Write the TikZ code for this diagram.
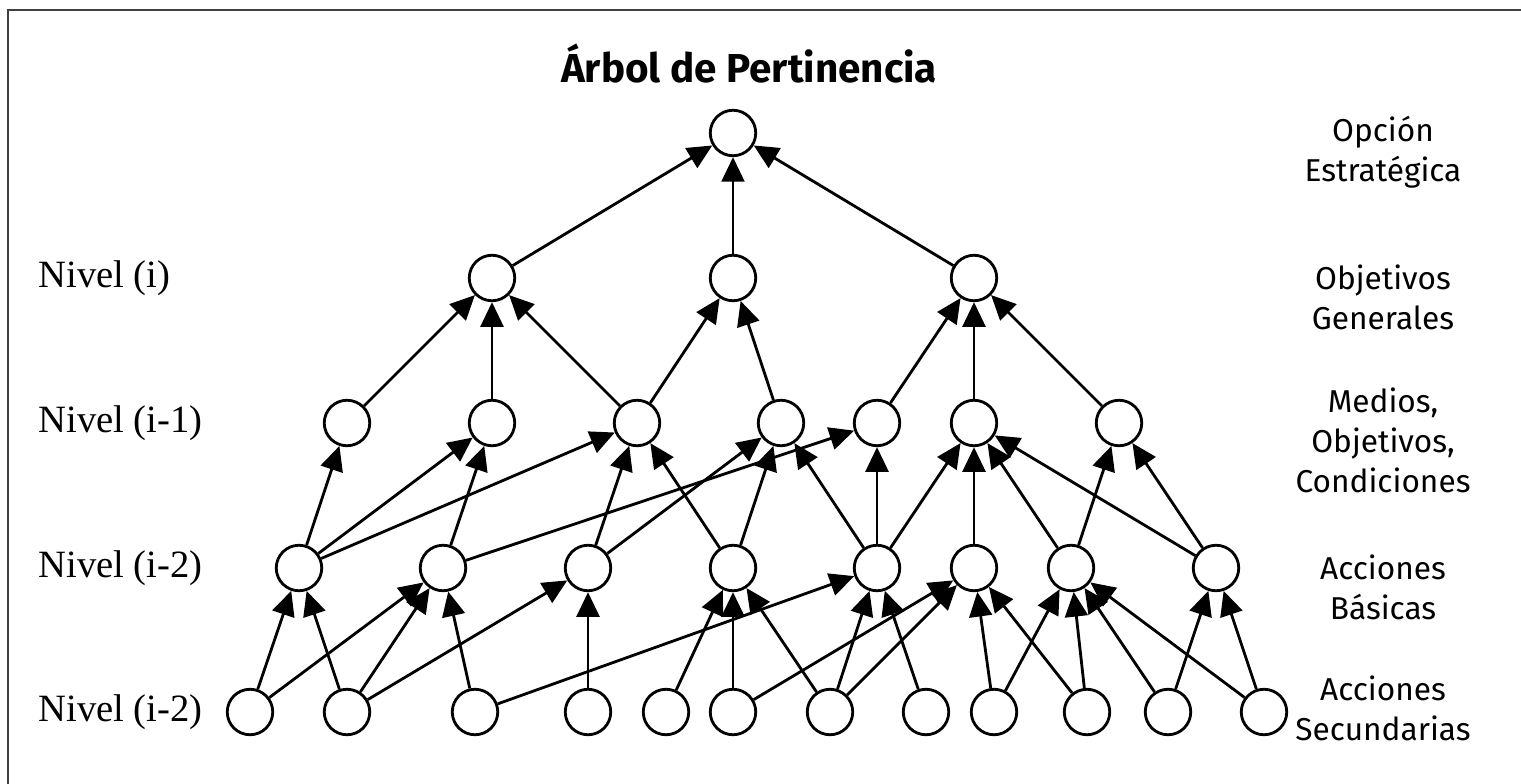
\documentclass[tikz,border=0pt]{standalone}
\usepackage{fontspec}
\setmainfont{Liberation Serif}
\setsansfont{Fira Sans}
\usetikzlibrary{arrows.meta}
\tikzset{
  nodo/.style={circle,draw,line width=1.6pt,inner sep=0pt,minimum size=0.91cm,fill=white},
  flecha/.style={line width=1.6pt,-{Triangle[length=14pt,width=13pt]}},
  nivel/.style={font=\fontsize{22}{26}\selectfont,anchor=west,inner sep=0pt},
  tipo/.style={font=\sffamily\fontsize{18}{22.7}\selectfont,align=center,inner sep=0pt}
}
\begin{document}
\begin{tikzpicture}[x=0.02cm,y=-0.02cm]
  \useasboundingbox (0,0) rectangle (1521,784);
  \clip (0,0) rectangle (1521,784);
  \draw[line width=1.5pt,black!75] (8,10) rectangle (1540,800);
  \node[font=\sffamily\bfseries\fontsize{23}{27}\selectfont,anchor=base] (titulo) at (749,83) {Árbol de Pertinencia};
  \node[nodo] (t) at (733,133) {};
  \foreach \n/\x in {1/492,2/733,3/974} \node[nodo] (g\n) at (\x,278) {};
  \foreach \n/\x in {1/347,2/492,3/637,4/781,5/877,6/974,7/1119} \node[nodo] (m\n) at (\x,423) {};
  \foreach \n/\x in {1/299,2/443,3/588,4/733,5/877,6/974,7/1071,8/1216} \node[nodo] (b\n) at (\x,568) {};
  \foreach \n/\x in {1/250,2/347,3/475,4/588,5/666,6/733,7/830,8/926,9/994,10/1087,11/1168,12/1264} \node[nodo] (s\n) at (\x,712) {};
  \foreach \a in {1,2,3} \draw[flecha] (g\a) -- (t);
  \foreach \a/\b in {1/1,2/1,3/1,3/2,4/2,5/3,6/3,7/3} \draw[flecha] (m\a) -- (g\b);
  \foreach \a/\b in {1/1,1/2,1/3,2/2,2/5,3/3,3/4,4/3,4/4,5/4,5/5,5/6,6/6,7/6,7/7,8/6,8/7} \draw[flecha] (b\a) -- (m\b);
  \foreach \a/\b in {1/1,1/2,2/1,2/2,2/3,3/2,3/5,4/3,5/4,6/4,6/6,7/4,7/5,7/6,8/5,9/6,9/7,10/6,10/7,11/7,11/8,12/7,12/8} \draw[flecha] (s\a) -- (b\b);
  \node[nivel] (n1) at (38,278) {Nivel (i)};
  \node[nivel] (n2) at (38,423) {Nivel (i-1)};
  \node[nivel] (n3) at (38,568) {Nivel (i-2)};
  \node[nivel] (n4) at (38,712) {Nivel (i-2)};
  \node[tipo] (l0) at (1383,152) {Opción\\Estratégica};
  \node[tipo] (l1) at (1383,297) {Objetivos\\Generales};
  \node[tipo] (l2) at (1383,440) {Medios,\\Objetivos,\\Condiciones};
  \node[tipo] (l3) at (1383,587) {Acciones\\Básicas};
  \node[tipo] (l4) at (1383,708) {Acciones\\Secundarias};
\end{tikzpicture}
\end{document}
